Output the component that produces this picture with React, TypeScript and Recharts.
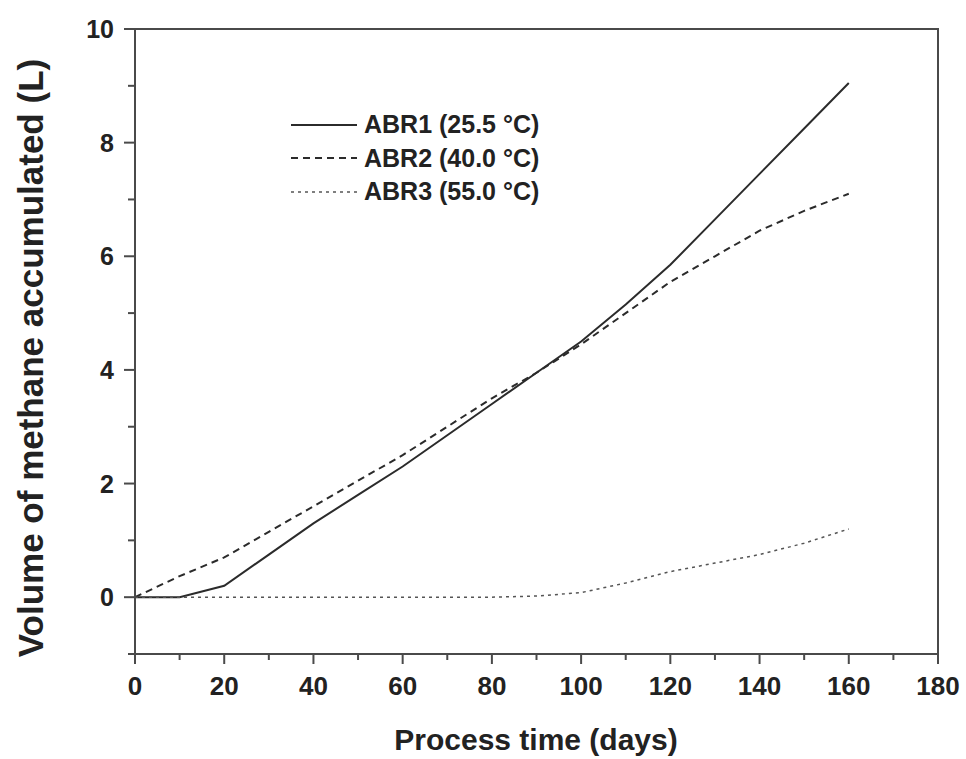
import React from 'react';
import { LineChart, Line, XAxis, YAxis, ReferenceArea, Legend, Label } from 'recharts';

const days = [0, 10, 20, 30, 40, 50, 60, 70, 80, 90, 100, 110, 120, 130, 140, 150, 160];
const abr1 = [0, 0, 0.2, 0.75, 1.3, 1.8, 2.3, 2.85, 3.4, 3.95, 4.5, 5.15, 5.85, 6.65, 7.45, 8.25, 9.05];
const abr2 = [0, 0.37, 0.7, 1.15, 1.6, 2.05, 2.5, 3.0, 3.5, 3.95, 4.45, 5.0, 5.55, 6.0, 6.45, 6.8, 7.1];
const abr3 = [0, 0, 0, 0, 0, 0, 0, 0, 0, 0.02, 0.08, 0.25, 0.45, 0.6, 0.75, 0.95, 1.2];

const seriesNames = ['ABR1 (25.5 °C)', 'ABR2 (40.0 °C)', 'ABR3 (55.0 °C)'];
const xTicks = [0, 10, 20, 30, 40, 50, 60, 70, 80, 90, 100, 110, 120, 130, 140, 150, 160, 170, 180];
const yTicks = [-1, 0, 1, 2, 3, 4, 5, 6, 7, 8, 9, 10];

const data = days.map((d, i) => ({ day: d, abr1: abr1[i], abr2: abr2[i], abr3: abr3[i] }));

const FONT = '"Liberation Sans", Arial, sans-serif';
const AXIS = '#4a4a4a';

const styles = [
  { key: 'abr1', stroke: '#2b2b2b', width: 2, dash: undefined as string | undefined },
  { key: 'abr2', stroke: '#2b2b2b', width: 2, dash: '7 5' },
  { key: 'abr3', stroke: '#555555', width: 1.5, dash: '3 4' },
];

const XTick = (props: any) => {
  const { x, y, payload } = props;
  const major = payload.value % 20 === 0;
  return (
    <g>
      <line x1={x} x2={x} y1={y} y2={y + (major ? 10 : 6)} stroke={AXIS} strokeWidth={2} />
      {major && (
        <text x={x} y={y + 41} textAnchor="middle" fontFamily={FONT} fontWeight="bold" fontSize={26} fill="#222">
          {payload.value}
        </text>
      )}
    </g>
  );
};

const YTick = (props: any) => {
  const { x, y, payload } = props;
  const major = payload.value % 2 === 0;
  return (
    <g>
      <line x1={x} x2={x - (major ? 11 : 7)} y1={y} y2={y} stroke={AXIS} strokeWidth={2} />
      {major && (
        <text x={x - 21} y={y + 9} textAnchor="end" fontFamily={FONT} fontWeight="bold" fontSize={25} fill="#222">
          {payload.value}
        </text>
      )}
    </g>
  );
};

const LegendContent = () => (
  <div style={{ fontFamily: FONT, fontWeight: 'bold', fontSize: 25, color: '#222' }}>
    {seriesNames.map((name, i) => (
      <div key={name} style={{ display: 'flex', alignItems: 'center', height: 33.5 }}>
        <svg width={68} height={10} style={{ marginRight: 5 }}>
          <line x1={0} x2={66} y1={5} y2={5} stroke={styles[i].stroke} strokeWidth={styles[i].width} strokeDasharray={styles[i].dash} />
        </svg>
        <span style={{ lineHeight: '33px' }}>{name}</span>
      </div>
    ))}
  </div>
);

export default function App() {
  return (
    <div style={{ position: 'absolute', left: 0, top: 0, width: 966, height: 759, background: '#fff' }}>
      <LineChart width={966} height={759} data={data} margin={{ top: 29, right: 28, bottom: 65, left: 75 }}>
        <ReferenceArea x1={0} x2={180} y1={-1} y2={10} fill="none" stroke={AXIS} strokeWidth={2} ifOverflow="visible" />
        <XAxis
          dataKey="day"
          type="number"
          domain={[0, 180]}
          ticks={xTicks}
          interval={0}
          tickLine={false}
          tickSize={0}
          tickMargin={0}
          height={40}
          stroke={AXIS}
          strokeWidth={2}
          tick={<XTick />}
        >
          <Label
            content={() => (
              <text x={536} y={750} textAnchor="middle" fontFamily={FONT} fontWeight="bold" fontSize={30} fill="#222">
                Process time (days)
              </text>
            )}
          />
        </XAxis>
        <YAxis
          type="number"
          domain={[-1, 10]}
          ticks={yTicks}
          interval={0}
          tickLine={false}
          tickSize={0}
          tickMargin={0}
          width={60}
          stroke={AXIS}
          strokeWidth={2}
          tick={<YTick />}
        >
          <Label
            content={() => (
              <text
                x={30}
                y={358}
                transform="rotate(-90 30 358)"
                textAnchor="middle"
                dominantBaseline="central"
                fontFamily={FONT}
                fontWeight="bold"
                fontSize={35}
                fill="#222"
              >
                Volume of methane accumulated (L)
              </text>
            )}
          />
        </YAxis>
        <Legend
          layout="vertical"
          align="center"
          verticalAlign="middle"
          content={<LegendContent />}
          wrapperStyle={{ left: 291, top: 108, width: 320 }}
        />
        {styles.map((s, i) => (
          <Line
            key={s.key}
            dataKey={s.key}
            name={seriesNames[i]}
            type="linear"
            stroke={s.stroke}
            strokeWidth={s.width}
            strokeDasharray={s.dash}
            dot={false}
            activeDot={false}
            isAnimationActive={false}
          />
        ))}
      </LineChart>
    </div>
  );
}
